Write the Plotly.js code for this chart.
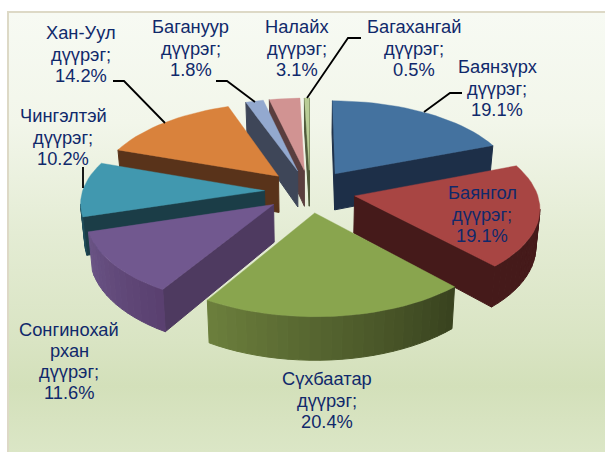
<!DOCTYPE html>
<html><head><meta charset="utf-8">
<script src="https://cdn.plot.ly/plotly-3.0.1.min.js"></script>
<style>
html,body{margin:0;padding:0;background:#fff;width:605px;height:452px;overflow:hidden}
#panel{position:absolute;left:7px;top:11px;width:598px;height:441px;box-sizing:border-box;border-left:2px solid #ddd9c6;border-top:2px solid #ddd9c6;
background:linear-gradient(180deg,#f7faf3 0%,#f2f6ea 25%,#e4ecd4 50%,#d9e4c3 75%,#d3e0ba 85%,#dbe6c6 100%)}
#chart{position:absolute;left:0;top:0;width:605px;height:452px}
</style></head><body>
<div id="panel"></div><div id="chart"></div>
<script>
// Data
const districts = ["Баянзүрх","Баянгол","Сүхбаатар","Сонгинохайрхан","Чингэлтэй","Хан-Уул","Багануур","Налайх","Багахангай"];
const shares = [19.1,19.1,20.4,11.6,10.2,14.2,1.8,3.1,0.5];
const labelLines = [
 ["Баянзүрх","дүүрэг;","19.1%"],["Баянгол","дүүрэг;","19.1%"],["Сүхбаатар","дүүрэг;","20.4%"],
 ["Сонгинохай","рхан","дүүрэг;","11.6%"],["Чингэлтэй","дүүрэг;","10.2%"],["Хан-Уул","дүүрэг;","14.2%"],
 ["Багануур","дүүрэг;","1.8%"],["Налайх","дүүрэг;","3.1%"],["Багахангай","дүүрэг;","0.5%"]];
// Styles
const topColors = ["#44729f","#a84543","#89a54e","#71588f","#4198af","#d9823c","#93a9cf","#d19392","#b9cd96"];
const wallColors = ["#1d2f48","#451a1a","#4f5a2c","#4e3a60","#1b3d47","#59331a","#3e4658","#5a3e3e","#4f5a3a"];
const arcFrom = ["#1d2f48","#451a1a","#39431f","#5a4070","#1f4a56","#6a3d1e","#3e4658","#5a3e3e","#4f5a3a"];
const arcTo   = ["#1d2f48","#451a1a","#6b7e3c","#6a5485","#2b6372","#6a3d1e","#3e4658","#5a3e3e","#4f5a3a"];
const labelPos = [[497,88],[482,214],[326.5,400],[69,361],[63,137],[81,54],[190.7,48],[296.5,48],[413.5,48]];
const leaders = [[[424,112],[450,93],[462,93]],[[83,167],[83,188]],[[113,81],[124,81],[165,123]],[[216,81],[227,81],[255,102]],[[307,98],[348,38],[361,38]]];
// Order back-to-front
const drawOrder = [8,7,6,5,4,0,1,3,2];
// Perspective model
const CX=310,CY=191,AX=182,BY=85.6,K=0.12,EXPL=0.25,DEPTH=37,CONV=0.982,LINE_GAP=21.3;
function proj(X,Y,low){const w=1+K*Y;let x=AX*X/w,y=-BY*Y/w;
  if(low){x*=CONV;y+=DEPTH/w;}return [CX+x,CY+y];}
function hex(c){return [1,3,5].map(i=>parseInt(c.substr(i,2),16));}
function mix(a,b,t){const A=hex(a),B=hex(b);return "rgb("+A.map((v,i)=>Math.round(v+(B[i]-v)*t)).join(",")+")";}
function poly(pts,color,lw){return {type:"scatter",mode:"lines",x:pts.concat([pts[0]]).map(p=>p[0]),y:pts.concat([pts[0]]).map(p=>p[1]),
  fill:"toself",fillcolor:color,line:{color:color,width:lw||1},hoverinfo:"skip",showlegend:false};}

const total=shares.reduce((a,b)=>a+b,0);
let acc=0;const geo=shares.map(v=>{const a0=acc/total*2*Math.PI;acc+=v;const a1=acc/total*2*Math.PI;return [a0,a1];});
const traces=[];
drawOrder.forEach(i=>{
  const [a0,a1]=geo[i],m=(a0+a1)/2,ex=EXPL*Math.sin(m),ey=EXPL*Math.cos(m);
  const n=Math.max(2,Math.ceil((a1-a0)/(Math.PI/60)));
  const rim=[];for(let j=0;j<=n;j++){const a=a0+(a1-a0)*j/n;rim.push([ex+Math.sin(a),ey+Math.cos(a)]);}
  const path=[[ex,ey]].concat(rim,[[ex,ey]]);
  for(let j=0;j<path.length-1;j++){
    const p=path[j],q=path[j+1],P=proj(p[0],p[1]),Q=proj(q[0],q[1]);
    if(Q[0]>=P[0])continue;
    const isArc=j>0&&j<path.length-2;
    const col=isArc?mix(arcFrom[i],arcTo[i],(j-1)/(n-1)):wallColors[i];
    traces.push(poly([P,Q,proj(q[0],q[1],true),proj(p[0],p[1],true)],col,1));
  }
  traces.push(poly(path.slice(0,-1).map(p=>proj(p[0],p[1])),topColors[i],0.4));
});

const annotations=[];
labelLines.forEach((l,i)=>l.forEach((t,k)=>annotations.push({x:labelPos[i][0],y:labelPos[i][1]+(k-(l.length-1)/2)*LINE_GAP,xref:"x",yref:"y",text:t,showarrow:false,
  xanchor:"center",yanchor:"middle",align:"center",font:{family:"Liberation Sans, Arial, sans-serif",size:18.3,color:"#10296b"}})));
const shapes=leaders.map(L=>({type:"path",xref:"x",yref:"y",layer:"above",
  path:L.map((p,i)=>(i?"L":"M")+p[0]+" "+p[1]).join(" "),line:{color:"#000",width:1.8}}));

Plotly.newPlot("chart",traces,{
  width:605,height:452,margin:{l:0,r:0,t:0,b:0},paper_bgcolor:"rgba(0,0,0,0)",plot_bgcolor:"rgba(0,0,0,0)",
  xaxis:{range:[0,605],visible:false,fixedrange:true},
  yaxis:{range:[452,0],visible:false,fixedrange:true},
  annotations,shapes,showlegend:false
},{displayModeBar:false,staticPlot:true});
</script></body></html>
